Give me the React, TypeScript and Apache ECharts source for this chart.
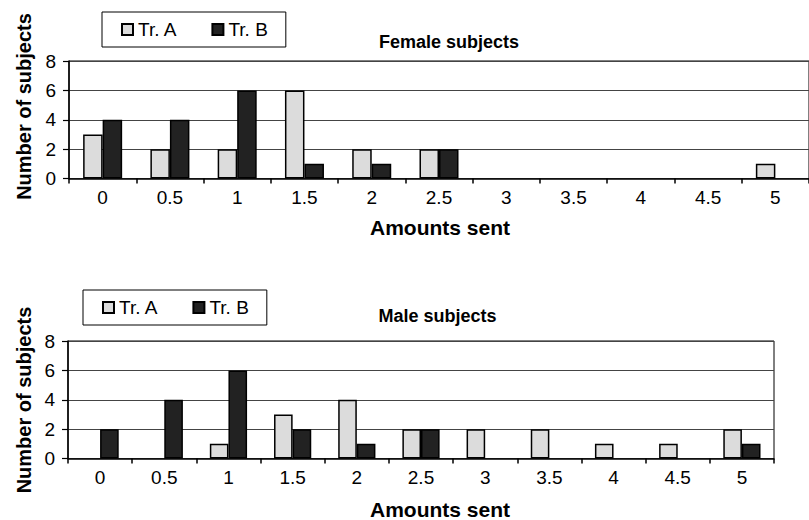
import React, { useEffect, useRef } from "react";
import * as echarts from "echarts";

const categories = ["0", "0.5", "1", "1.5", "2", "2.5", "3", "3.5", "4", "4.5", "5"];
const femaleTrA = [3, 2, 2, 6, 2, 2, 0, 0, 0, 0, 1];
const femaleTrB = [4, 4, 6, 1, 1, 2, 0, 0, 0, 0, 0];
const maleTrA = [0, 0, 1, 3, 4, 2, 2, 2, 1, 1, 2];
const maleTrB = [2, 4, 6, 2, 1, 2, 0, 0, 0, 0, 1];
const seriesNames = ["Tr. A", "Tr. B"];
const yTicks = { min: 0, max: 8, interval: 2 };

const FONT = "'Liberation Sans', Arial, Helvetica, sans-serif";
const colorA = "#dcdcdc";
const colorB = "#222222";

function xAxisCfg(gridIndex: number) {
  return {
    type: "category",
    gridIndex,
    data: categories,
    axisLine: { show: true, lineStyle: { color: "#000", width: 1.5 } },
    axisTick: { show: true, length: 5, interval: 0, alignWithLabel: false, lineStyle: { color: "#000", width: 1.5 } },
    axisLabel: { interval: 0, fontSize: 19, color: "#000", fontFamily: FONT, margin: 9 },
    splitLine: { show: false },
  };
}

function yAxisCfg(gridIndex: number) {
  return {
    type: "value",
    gridIndex,
    min: yTicks.min,
    max: yTicks.max,
    interval: yTicks.interval,
    axisLine: { show: true, lineStyle: { color: "#000", width: 1.5 } },
    axisTick: { show: true, length: 6, lineStyle: { color: "#000", width: 1.2 } },
    axisLabel: { fontSize: 19, color: "#000", fontFamily: FONT, margin: 13 },
    splitLine: { show: true, lineStyle: { color: "#444", width: 1 } },
  };
}

function barSeries(name: string, data: number[], axisIndex: number, color: string) {
  return {
    type: "bar",
    name,
    data: data.map((v) => (v === 0 ? null : v)),
    xAxisIndex: axisIndex,
    yAxisIndex: axisIndex,
    barGap: "0%",
    barCategoryGap: "42%",
    itemStyle: { color, borderColor: "#000", borderWidth: 1.5 },
    emphasis: { disabled: true },
  };
}

function legendCfg(left: number, top: number) {
  return {
    data: seriesNames,
    left,
    top,
    orient: "horizontal",
    icon: "rect",
    itemWidth: 11,
    itemHeight: 11,
    itemGap: 34,
    padding: [8, 18, 8, 19],
    borderColor: "#000",
    borderWidth: 1,
    backgroundColor: "#fff",
    textStyle: { fontSize: 19, color: "#000", fontFamily: FONT },
  };
}

function label(text: string, x: number, y: number, size: number, rotation = 0) {
  return {
    type: "text",
    x,
    y,
    rotation,
    silent: true,
    style: {
      text,
      fontSize: size,
      fontWeight: "bold",
      fontFamily: FONT,
      fill: "#000",
      textAlign: "center",
      textVerticalAlign: "middle",
    },
  };
}

export default function App() {
  const ref = useRef<HTMLDivElement>(null);

  useEffect(() => {
    document.body.style.margin = "0";
    if (!ref.current) return;
    const chart = echarts.init(ref.current, null, { renderer: "svg" });
    chart.setOption({
      animation: false,
      backgroundColor: "#fff",
      grid: [
        { left: 69, top: 61, width: 745, height: 117.5, show: true, borderColor: "#000", borderWidth: 1, backgroundColor: "transparent" },
        { left: 68, top: 341, width: 706, height: 117.5, show: true, borderColor: "#000", borderWidth: 1, backgroundColor: "transparent" },
      ],
      xAxis: [xAxisCfg(0), xAxisCfg(1)],
      yAxis: [yAxisCfg(0), yAxisCfg(1)],
      legend: [legendCfg(102, 12), legendCfg(83, 290)],
      series: [
        barSeries(seriesNames[0], femaleTrA, 0, colorA),
        barSeries(seriesNames[1], femaleTrB, 0, colorB),
        barSeries(seriesNames[0], maleTrA, 1, colorA),
        barSeries(seriesNames[1], maleTrB, 1, colorB),
      ],
      graphic: [
        label("Female subjects", 449, 42, 18),
        label("Male subjects", 437.5, 316, 18),
        label("Amounts sent", 440, 227, 21),
        label("Amounts sent", 440, 509, 21),
        label("Number of subjects", 24, 106.5, 20, Math.PI / 2),
        label("Number of subjects", 24, 400, 20, Math.PI / 2),
      ],
    });
    return () => chart.dispose();
  }, []);

  return <div ref={ref} style={{ width: 809, height: 520 }} />;
}
